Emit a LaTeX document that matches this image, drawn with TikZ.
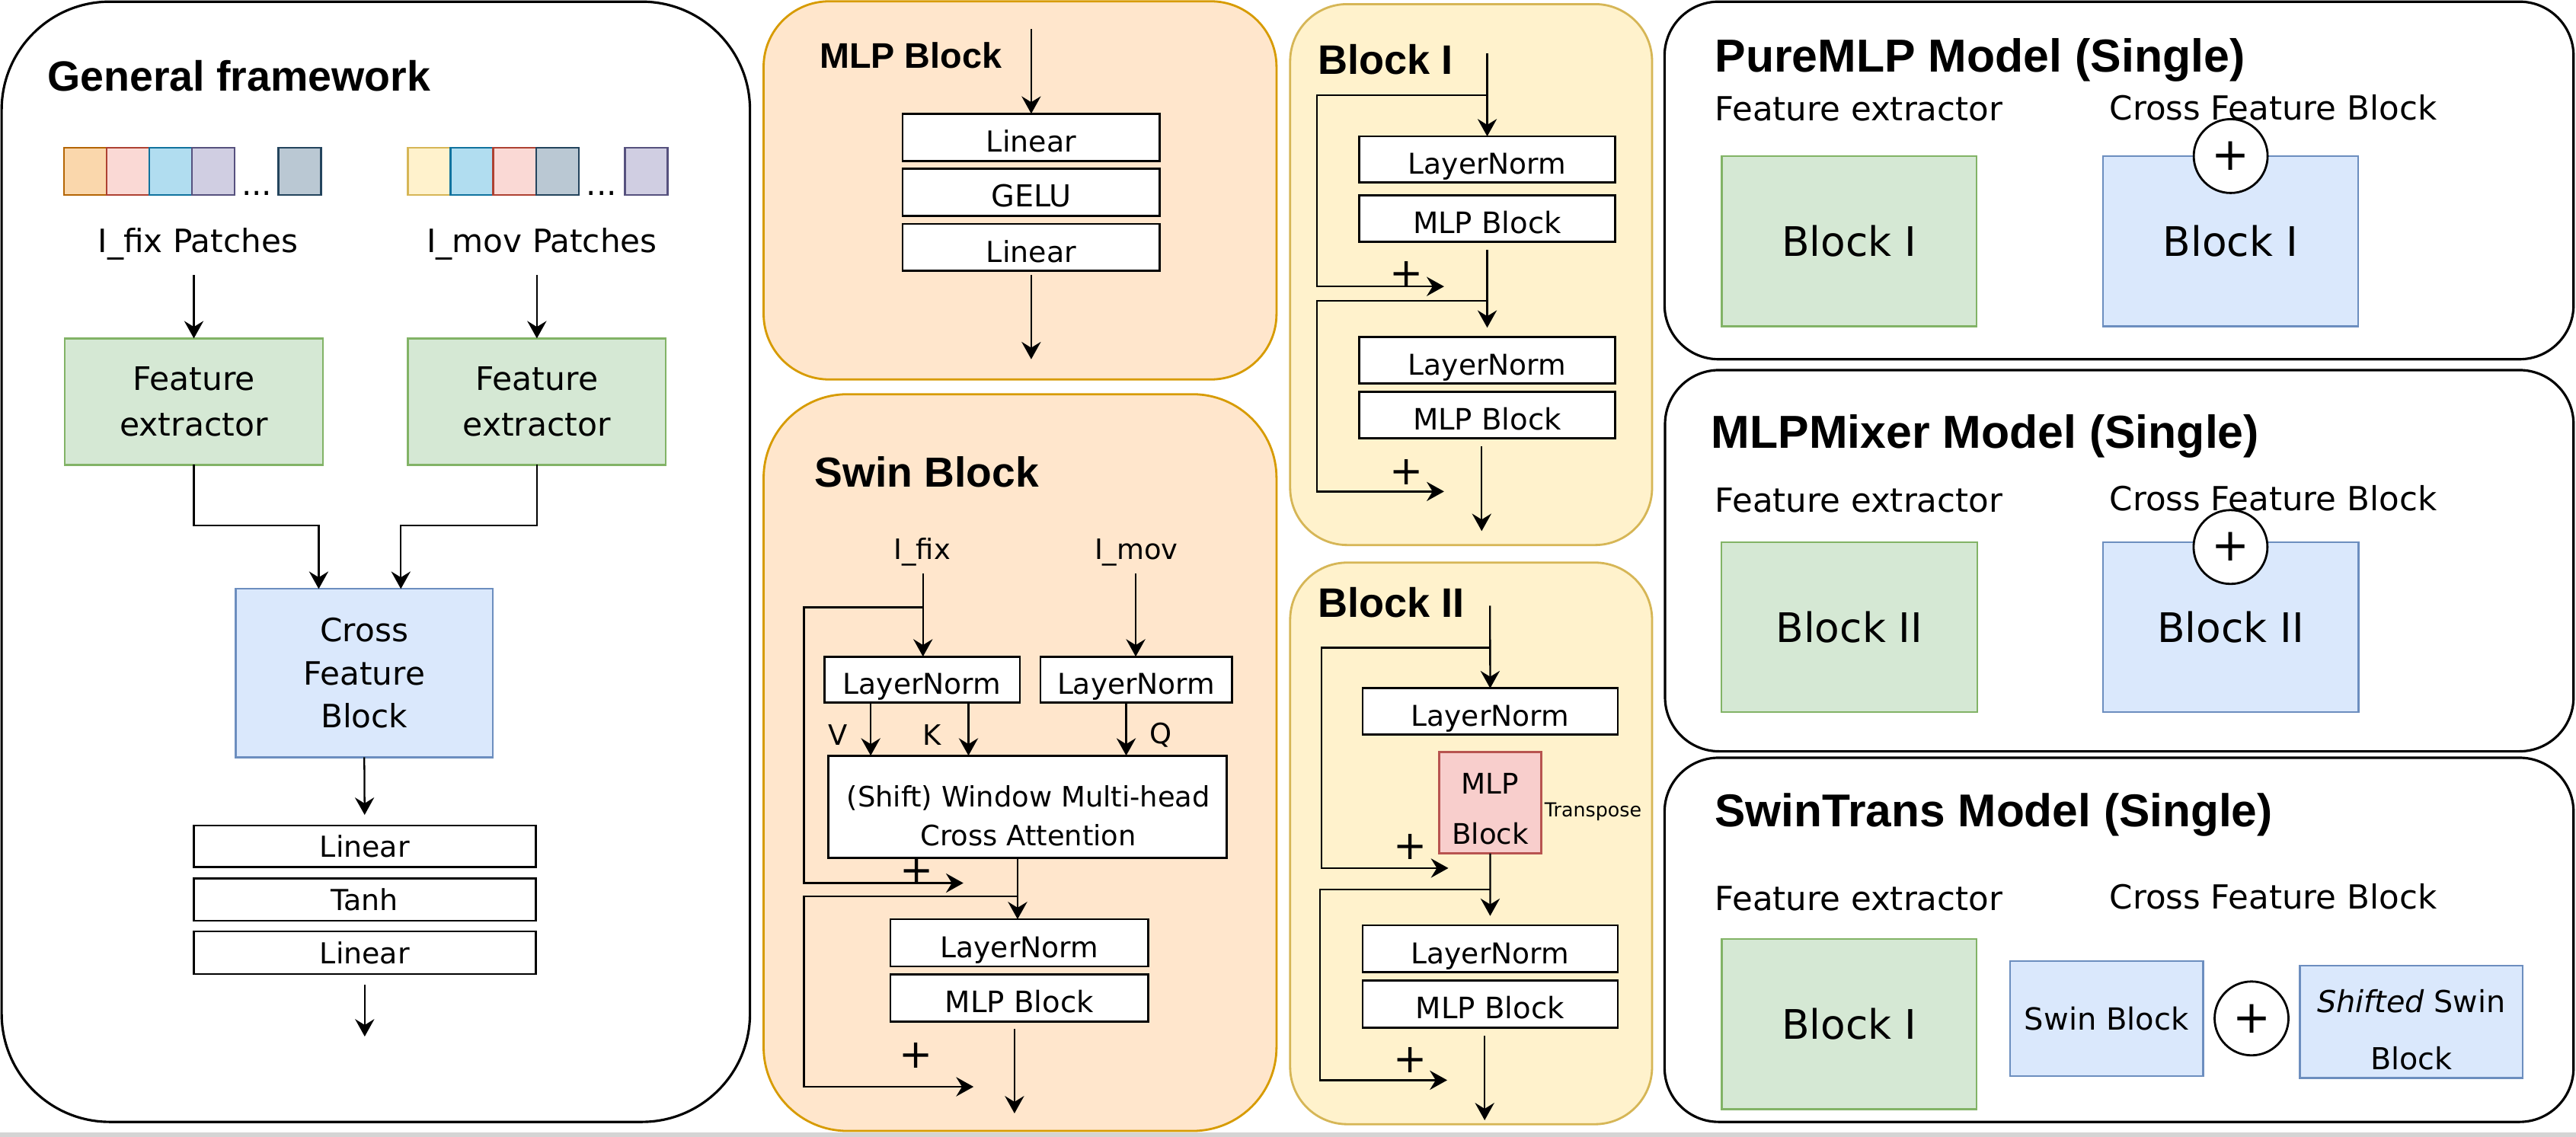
\documentclass[tikz,border=0pt]{standalone}
\usepackage{fontspec}
\setmainfont{DejaVu Sans}
\newfontfamily\titlefont{Liberation Sans}
\usetikzlibrary{arrows.meta,fit,calc}
\definecolor{feFill}{HTML}{D5E8D4}\definecolor{feLine}{HTML}{82B366}
\definecolor{cfFill}{HTML}{DAE8FC}\definecolor{cfLine}{HTML}{6C8EBF}
\definecolor{orFill}{HTML}{FFE6CC}\definecolor{orLine}{HTML}{D79B00}
\definecolor{yeFill}{HTML}{FFF2CC}\definecolor{yeLine}{HTML}{D6B656}
\definecolor{pkFill}{HTML}{F8CECC}\definecolor{pkLine}{HTML}{B85450}
\definecolor{oFill}{HTML}{FAD7AC}\definecolor{oLine}{HTML}{B46504}
\definecolor{rFill}{HTML}{FAD9D5}\definecolor{rLine}{HTML}{AE4132}
\definecolor{bFill}{HTML}{B1DDF0}\definecolor{bLine}{HTML}{10739E}
\definecolor{vFill}{HTML}{D0CEE2}\definecolor{vLine}{HTML}{56517E}
\definecolor{gFill}{HTML}{BAC8D3}\definecolor{gLine}{HTML}{23445D}
\tikzset{
  panel/.style 2 args={draw=#2, fill=#1, line width=0.9pt, inner sep=0pt, outer sep=0pt},
  wbox/.style={draw=black, line width=0.8pt, fill=white, inner sep=0pt, outer sep=0pt, align=center},
  lowtxt/.style={text height=1.1em, text depth=0pt},
  cbox/.style 2 args={draw=#2, fill=#1, line width=0.7pt, inner sep=0pt, outer sep=0pt, align=center},
  arr/.style={-{Stealth[length=6.5pt,width=7.2pt,inset=2.2pt]}, line width=0.65pt},
  plussign/.style={inner sep=0pt, font=\fontsize{15}{15}\selectfont},
  ttl/.style={anchor=base west, inner sep=0pt, font=\titlefont\bfseries\fontsize{#1}{#1}\selectfont},
  lbl/.style={inner sep=0pt, font=\fontsize{#1}{#1}\selectfont},
  circ/.style={circle, draw=black, fill=white, line width=0.8pt, minimum size=0.97cm, inner sep=0pt, font=\fontsize{17}{17}\selectfont},
}
% box by corners: options, name, x1, y1, x2, y2 ; the text follows
\newcommand{\bx}[6]{\node[#1, minimum width={(#5-#3)*0.021569cm}, minimum height={(#6-#4)*0.021569cm}] (#2) at ({(#3+#5)/2},{(#4+#6)/2})}
\begin{document}
\begin{tikzpicture}[x=0.021569cm, y=-0.021569cm]
\useasboundingbox (0,0) rectangle (1568,692);
\fill[white] (0,0) rectangle (1568,692);
\fill[black!17] (0,689.4) rectangle (1568,692);

%% ---------------- Panel A: General framework
\bx{panel={white}{black}, rounded corners=1.42cm}{pA}{1}{1}{456.5}{683} {};
\node[ttl=15.8] (tA) at (28.6,55.6) {General framework};
\bx{cbox={oFill}{oLine}}{p1}{38.9}{89.9}{64.9}{118.7} {};
\bx{cbox={rFill}{rLine}}{p2}{64.9}{89.9}{90.9}{118.7} {};
\bx{cbox={bFill}{bLine}}{p3}{90.9}{89.9}{116.9}{118.7} {};
\bx{cbox={vFill}{vLine}}{p4}{116.9}{89.9}{142.9}{118.7} {};
\node[lbl=12, anchor=base] (pd) at (156.3,119) {...};
\bx{cbox={gFill}{gLine}}{p5}{169.5}{89.9}{195.5}{118.7} {};
\bx{cbox={yeFill}{yeLine}}{q1}{248.3}{89.9}{274.3}{118.7} {};
\bx{cbox={bFill}{bLine}}{q2}{274.3}{89.9}{300.3}{118.7} {};
\bx{cbox={rFill}{rLine}}{q3}{300.3}{89.9}{326.3}{118.7} {};
\bx{cbox={gFill}{gLine}}{q4}{326.3}{89.9}{352.3}{118.7} {};
\node[lbl=12, anchor=base] (qd) at (366.3,119) {...};
\bx{cbox={vFill}{vLine}}{q5}{380.3}{89.9}{406.3}{118.7} {};
\node[lbl=12, anchor=base] (lfix) at (120.5,153.8) {I\_fix Patches};
\node[lbl=12, anchor=base] (lmov) at (329.9,153.8) {I\_mov Patches};
\bx{cbox={feFill}{feLine}, font=\fontsize{12.1}{17}\selectfont}{fe1}{39.5}{206}{196.5}{283} {Feature\\extractor};
\bx{cbox={feFill}{feLine}, font=\fontsize{12.1}{17}\selectfont}{fe2}{248.3}{206}{405.3}{283} {Feature\\extractor};
\coordinate (a1) at (118,167.5);
\coordinate (a2) at (326.8,167.5);
\draw[arr] (a1) -- (a1 |- fe1.north);
\draw[arr] (a2) -- (a2 |- fe2.north);
\bx{cbox={cfFill}{cfLine}, font=\fontsize{12}{16}\selectfont}{cfb}{143.5}{358.5}{300}{461} {Cross\\Feature\\Block};
\coordinate (j1) at (194,320);
\coordinate (j2) at (244,320);
\draw[arr] (fe1.south) |- (j1) -- (j1 |- cfb.north);
\draw[arr] (fe2.south) |- (j2) -- (j2 |- cfb.north);
\bx{wbox, font=\fontsize{10.8}{10.8}\selectfont}{lin1}{118}{502.6}{326}{528} {Linear};
\bx{wbox, font=\fontsize{10.8}{10.8}\selectfont}{tanh}{118}{534.8}{326}{560.5} {Tanh};
\bx{wbox, font=\fontsize{10.8}{10.8}\selectfont}{lin2}{118}{567}{326}{593} {Linear};
\draw[arr, shorten >=4pt] (cfb.south) -- (lin1.north);
\coordinate (o1) at (222,631);
\draw[arr, shorten <=4pt] (lin2.south) -- (o1);

%% ---------------- Panel B: MLP Block
\bx{panel={orFill}{orLine}, line width=0.8pt, rounded corners=0.86cm}{pB}{464.8}{0.8}{777}{231} {};
\node[ttl=13.3] (tB) at (498.7,41.7) {MLP Block};
\bx{wbox, lowtxt, font=\fontsize{10.8}{10.8}\selectfont}{bl1}{549.4}{69.2}{706}{97.9} {Linear};
\bx{wbox, lowtxt, font=\fontsize{11.3}{11.3}\selectfont}{bl2}{549.4}{102.8}{706}{131.4} {GELU};
\bx{wbox, lowtxt, font=\fontsize{10.8}{10.8}\selectfont}{bl3}{549.4}{136.3}{706}{164.9} {Linear};
\coordinate (bIn) at (627.7,17.8);
\coordinate (bOut) at (627.7,218.7);
\draw[arr] (bIn) -- (bl1.north);
\draw[arr, shorten <=1.5pt] (bl3.south) -- (bOut);

%% ---------------- Panel C: Swin Block
\bx{panel={orFill}{orLine}, line width=0.8pt, rounded corners=1.1cm}{pC}{464.8}{240}{777}{688.5} {};
\node[ttl=15.7] (tC) at (495.5,296.4) {Swin Block};
\node[lbl=10.5, anchor=base] (ifix) at (561.3,340.4) {I\_fix};
\node[lbl=10.5, anchor=base] (imov) at (691.7,340.4) {I\_mov};
\bx{wbox, lowtxt, font=\fontsize{10.7}{10.7}\selectfont}{sln1}{501.8}{399.7}{620.8}{427.8} {LayerNorm};
\bx{wbox, lowtxt, font=\fontsize{10.7}{10.7}\selectfont}{sln2}{633.3}{399.7}{749.9}{427.8} {LayerNorm};
\bx{wbox}{attn}{504.3}{460}{746.5}{522.3} {};
\node[lbl=10.5, align=center, font=\fontsize{10.5}{14.5}\selectfont] (attnT) at (626,496.7) {(Shift) Window Multi-head\\Cross Attention};
\coordinate (sIn1) at (561.8,349);
\coordinate (sIn2) at (691.3,349);
\draw[arr] (sIn1) -- (sIn1 |- sln1.north);
\draw[arr] (sIn2) -- (sIn2 |- sln2.north);
\coordinate (sb1) at (561.8,369.7);
\coordinate (sp1) at (586.4,537.6);
\draw[arr] (sb1) -- ++(-72.5,0) |- (sp1);
\node[plussign] (spl1) at (558.2,530.2) {+};
\coordinate (vx) at (530,0);
\coordinate (kx) at (589.5,0);
\coordinate (qx) at (685.5,0);
\draw[arr] (vx |- sln1.south) -- (vx |- attn.north);
\draw[arr] (kx |- sln1.south) -- (kx |- attn.north);
\draw[arr] (qx |- sln2.south) -- (qx |- attn.north);
\node[lbl=10.5] (lv) at (510.1,447.4) {V};
\node[lbl=10.5] (lk) at (567.5,447.4) {K};
\node[lbl=10.5] (lq) at (706.5,447.4) {Q};
\bx{wbox, lowtxt, font=\fontsize{10.7}{10.7}\selectfont}{sln3}{542}{559.6}{699}{588.3} {LayerNorm};
\bx{wbox, lowtxt, font=\fontsize{11}{11}\selectfont}{smlp}{542}{593.3}{699}{622} {MLP Block};
\coordinate (ax) at (619.4,0);
\draw[arr] (ax |- attn.south) -- (ax |- sln3.north);
\coordinate (sb2) at (619.4,545.7);
\coordinate (sp2) at (592.6,661.6);
\draw[arr] (sb2) -- ++(-130.1,0) |- (sp2);
\node[plussign] (spl2) at (557.7,642.6) {+};
\coordinate (sOut) at (617.5,677.8);
\draw[arr, shorten <=2.7pt] (sOut |- smlp.south) -- (sOut);

%% ---------------- Panel D: Block I
\bx{panel={yeFill}{yeLine}, line width=0.8pt, rounded corners=0.75cm}{pD}{785.3}{2.5}{1005.6}{331.8} {};
\node[ttl=15.4] (tD) at (802,45) {Block I};
\bx{wbox, lowtxt, font=\fontsize{10.7}{10.7}\selectfont}{dln1}{827.5}{83}{983}{111} {LayerNorm};
\bx{wbox, lowtxt, font=\fontsize{11}{11}\selectfont}{dmlp1}{827.5}{119}{983}{147.2} {MLP Block};
\bx{wbox, lowtxt, font=\fontsize{10.7}{10.7}\selectfont}{dln2}{827.5}{205.2}{983}{233.5} {LayerNorm};
\bx{wbox, lowtxt, font=\fontsize{11}{11}\selectfont}{dmlp2}{827.5}{238.6}{983}{266.9} {MLP Block};
\coordinate (dIn) at (905.25,32.5);
\draw[arr] (dIn) -- (dln1.north);
\coordinate (db1) at (905.25,58);
\coordinate (dp1) at (879,174.4);
\draw[arr] (db1) -- ++(-103.5,0) |- (dp1);
\node[plussign] (dpl1) at (856,167) {+};
\draw[arr, shorten <=3pt, shorten >=3.5pt] (dmlp1.south) -- (dln2.north);
\coordinate (db2) at (905.25,183);
\coordinate (dp2) at (879,299.2);
\draw[arr] (db2) -- ++(-103.5,0) |- (dp2);
\node[plussign] (dpl2) at (856,287.6) {+};
\coordinate (dOut) at (901.9,323.3);
\draw[arr, shorten <=3pt] (dOut |- dmlp2.south) -- (dOut);

%% ---------------- Panel E: Block II
\bx{panel={yeFill}{yeLine}, line width=0.8pt, rounded corners=0.75cm}{pE}{785.3}{342.5}{1005.6}{684.4} {};
\node[ttl=15.4] (tE) at (802,375.6) {Block II};
\bx{wbox, lowtxt, font=\fontsize{10.7}{10.7}\selectfont}{eln1}{829.4}{419}{984.7}{447.3} {LayerNorm};
\bx{cbox={pkFill}{pkLine}, line width=0.8pt, text height=31pt, text depth=0pt, font=\fontsize{10.6}{18.9}\selectfont}{epk}{876.2}{457.8}{938}{519.5} {MLP\\Block};
\node[lbl=7.2] (etr) at (969.7,494.4) {Transpose};
\bx{wbox, lowtxt, font=\fontsize{10.7}{10.7}\selectfont}{eln2}{829.4}{563.3}{984.7}{591.8} {LayerNorm};
\bx{wbox, lowtxt, font=\fontsize{11}{11}\selectfont}{emlp2}{829.4}{597}{984.7}{625.5} {MLP Block};
\coordinate (eIn) at (907,368.8);
\draw[arr] (eIn) -- (eln1.north);
\coordinate (eb1) at (907,394.3);
\coordinate (ep1) at (881.6,528.5);
\draw[arr] (eb1) -- ++(-102.6,0) |- (ep1);
\node[plussign] (epl1) at (858.6,515.4) {+};
\draw[arr, shorten >=3.5pt] (epk.south) -- (eln2.north);
\coordinate (eb2) at (907,541.6);
\coordinate (ep2) at (880.9,657.6);
\draw[arr] (eb2) -- ++(-103.4,0) |- (ep2);
\node[plussign] (epl2) at (858.6,645.5) {+};
\coordinate (eOut) at (903.7,682);
\draw[arr, shorten <=3.2pt] (eOut |- emlp2.south) -- (eOut);

%% ---------------- Panel F: PureMLP
\bx{panel={white}{black}, rounded corners=0.71cm}{pF}{1013.2}{1}{1566.5}{218.7} {};
\node[ttl=17.3] (tF) at (1043.6,44) {PureMLP Model (Single)};
\node[lbl=12.4, anchor=base west] (fF1) at (1043.6,73.5) {Feature extractor};
\node[lbl=12.4, anchor=base west] (fF2) at (1283.8,73) {Cross Feature Block};
\bx{cbox={feFill}{feLine}, font=\fontsize{15.2}{15.2}\selectfont}{gF}{1048}{95}{1203}{198.6} {Block I};
\bx{cbox={cfFill}{cfLine}, font=\fontsize{15.2}{15.2}\selectfont}{bF}{1280}{95}{1435.3}{198.6} {Block I};
\node[circ] (cF) at (1357.8,95) {+};

%% ---------------- Panel G: MLPMixer
\bx{panel={white}{black}, rounded corners=0.71cm}{pG}{1013.5}{225.3}{1566.5}{457.4} {};
\node[ttl=17.3] (tG) at (1041.3,272.8) {MLPMixer Model (Single)};
\node[lbl=12.4, anchor=base west] (fG1) at (1043.6,312) {Feature extractor};
\node[lbl=12.4, anchor=base west] (fG2) at (1283.8,311) {Cross Feature Block};
\bx{cbox={feFill}{feLine}, font=\fontsize{15.2}{15.2}\selectfont}{gG}{1047.8}{330}{1203.5}{433.5} {Block II};
\bx{cbox={cfFill}{cfLine}, font=\fontsize{15.2}{15.2}\selectfont}{bG}{1280}{330}{1435.6}{433.5} {Block II};
\node[circ] (cG) at (1357.7,333) {+};

%% ---------------- Panel H: SwinTrans
\bx{panel={white}{black}, rounded corners=0.71cm}{pH}{1013.2}{461.3}{1566.5}{683} {};
\node[ttl=17.2] (tH) at (1043.6,503.3) {SwinTrans Model (Single)};
\node[lbl=12.4, anchor=base west] (fH1) at (1043.6,554.4) {Feature extractor};
\node[lbl=12.4, anchor=base west] (fH2) at (1283.8,553.3) {Cross Feature Block};
\bx{cbox={feFill}{feLine}, font=\fontsize{15.2}{15.2}\selectfont}{gH}{1048}{571.6}{1203}{675.2} {Block I};
\bx{cbox={cfFill}{cfLine}, font=\fontsize{11.4}{11.4}\selectfont}{sH}{1223.5}{585}{1341}{655} {Swin Block};
\node[circ] (cH) at (1370.5,620) {+};
\bx{cbox={cfFill}{cfLine}}{shH}{1400}{587.8}{1535.5}{656.3} {};
\node[lbl=11.3, align=center, font=\fontsize{11.3}{21.2}\selectfont] (shT) at (1467.8,626.9) {\itshape Shifted\upshape{} Swin\\Block};
\end{tikzpicture}
\end{document}
